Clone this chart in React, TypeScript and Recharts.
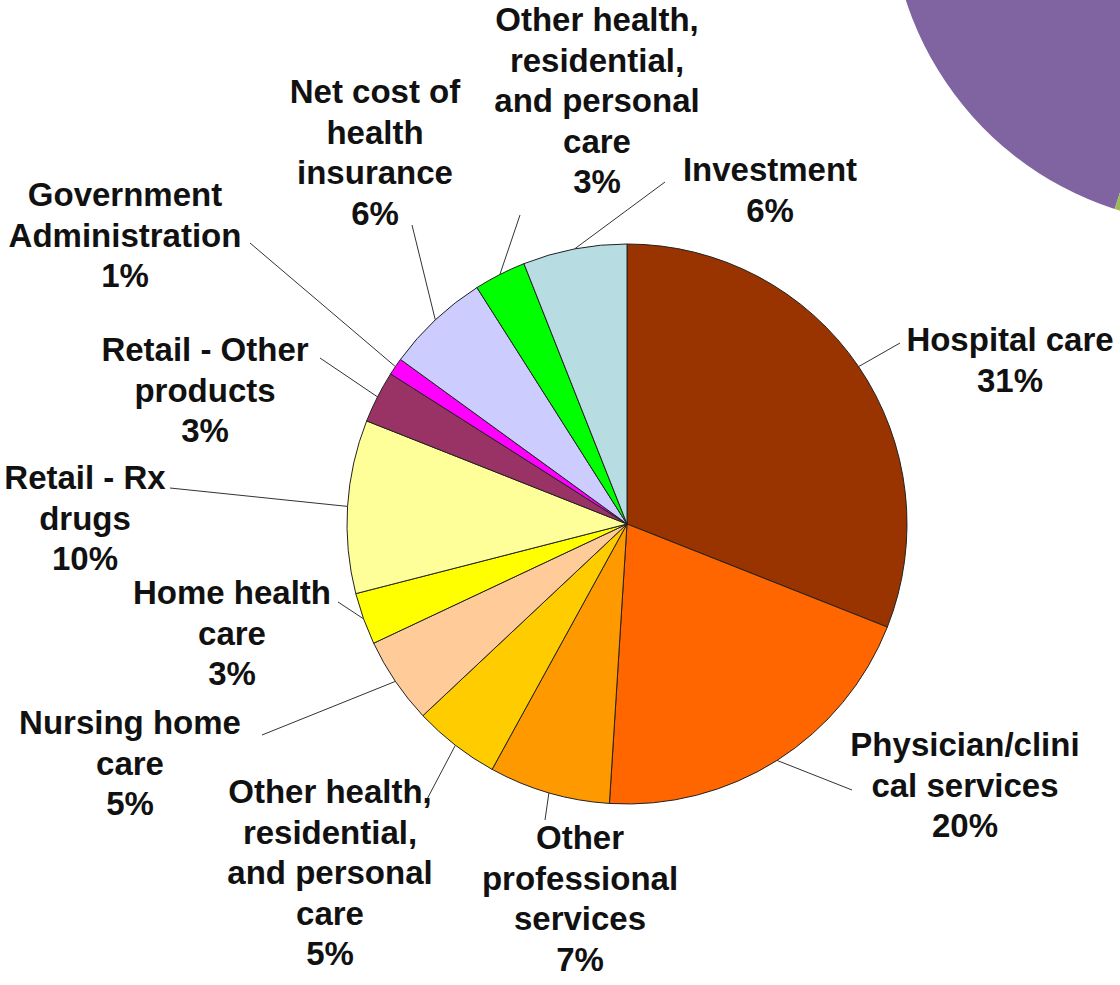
import React from "react";
import { PieChart, Pie, Cell } from "recharts";

// spending categories, clockwise from 12 o'clock
const categories = [
  "Hospital care",
  "Physician/clinical services",
  "Other professional services",
  "Other health, residential, and personal care",
  "Nursing home care",
  "Home health care",
  "Retail - Rx drugs",
  "Retail - Other products",
  "Government Administration",
  "Net cost of health insurance",
  "Other health, residential, and personal care ",
  "Investment",
];
const shares = [31, 20, 7, 5, 5, 3, 10, 3, 1, 6, 3, 6];
const sliceColors = [
  "#993300",
  "#FF6600",
  "#FF9900",
  "#FFCC00",
  "#FFCC99",
  "#FFFF00",
  "#FFFF99",
  "#993366",
  "#FF00FF",
  "#CCCCFF",
  "#00FF00",
  "#B7DDE3",
];
// label text as broken in the picture (percent added from the value)
const labelLines = [
  ["Hospital care"],
  ["Physician/clini", "cal services"],
  ["Other", "professional", "services"],
  ["Other health,", "residential,", "and personal", "care"],
  ["Nursing home", "care"],
  ["Home health", "care"],
  ["Retail - Rx", "drugs"],
  ["Retail - Other", "products"],
  ["Government", "Administration"],
  ["Net cost of", "health", "insurance"],
  ["Other health,", "residential,", "and personal", "care"],
  ["Investment"],
];

// the neighbouring pie that is cut off in the top right corner
const sidePie = [
  { name: "a", value: 45 },
  { name: "b", value: 55 },
];
const sideColors = ["#8064A2", "#9BBB59"];

// label placement relative to the pie centre: first line centre, leader end
const labelAnchors = [
  { tx: 383, ty: -184, lx: 273, ly: -181 },
  { tx: 338, ty: 221, lx: 225, ly: 266 },
  { tx: -47, ty: 314, lx: -82, ly: 296 },
  { tx: -297, ty: 268, lx: -202, ly: 279 },
  { tx: -497, ty: 199, lx: -365, ly: 211 },
  { tx: -395, ty: 69, lx: -289, ly: 78 },
  { tx: -542, ty: -46, lx: -457, ly: -36 },
  { tx: -422, ty: -174, lx: -307, ly: -166 },
  { tx: -502, ty: -329, lx: -377, ly: -281 },
  { tx: -252, ty: -432, lx: -215, ly: -299 },
  { tx: -30, ty: -504, lx: -107, ly: -309 },
  { tx: 143, ty: -354, lx: 38, ly: -342 },
];

const data = categories.map((name, i) => ({ name, value: shares[i] }));

const RAD = Math.PI / 180;
const FONT = 33;
const LINE = 40.5;

function renderLabel(props: any) {
  const { cx, cy, midAngle, outerRadius, index, value } = props;
  const a = labelAnchors[index];
  const sx = cx + outerRadius * Math.cos(-midAngle * RAD);
  const sy = cy + outerRadius * Math.sin(-midAngle * RAD);
  const lines = [...labelLines[index], `${value}%`];
  return (
    <g key={`lbl-${index}`}>
      <line
        x1={sx}
        y1={sy}
        x2={cx + a.lx}
        y2={cy + a.ly}
        stroke="#333"
        strokeWidth={1}
      />
      <text
        x={cx + a.tx}
        y={cy + a.ty + FONT * 0.34}
        textAnchor="middle"
        fontFamily="'Liberation Sans', Arial, sans-serif"
        fontWeight="bold"
        fontSize={FONT}
        fill="#111"
      >
        {lines.map((t, k) => (
          <tspan key={k} x={cx + a.tx} dy={k === 0 ? 0 : LINE}>
            {t}
          </tspan>
        ))}
      </text>
    </g>
  );
}

export default function App() {
  return (
    <div style={{ position: "absolute", left: 0, top: 0, background: "#fff" }}>
      <PieChart
        width={1120}
        height={985}
        margin={{ top: 0, right: 0, bottom: 0, left: 0 }}
      >
        <Pie
          data={sidePie}
          dataKey="value"
          cx={1215}
          cy={-100}
          outerRadius={325}
          startAngle={90}
          endAngle={450}
          stroke="none"
          isAnimationActive={false}
        >
          {sidePie.map((d, i) => (
            <Cell key={d.name} fill={sideColors[i]} />
          ))}
        </Pie>
        <Pie
          data={data}
          dataKey="value"
          nameKey="name"
          cx={627}
          cy={524}
          outerRadius={280}
          startAngle={90}
          endAngle={-270}
          stroke="#222"
          strokeWidth={1}
          label={renderLabel}
          labelLine={false}
          isAnimationActive={false}
        >
          {data.map((d, i) => (
            <Cell key={i} fill={sliceColors[i]} />
          ))}
        </Pie>
      </PieChart>
    </div>
  );
}
